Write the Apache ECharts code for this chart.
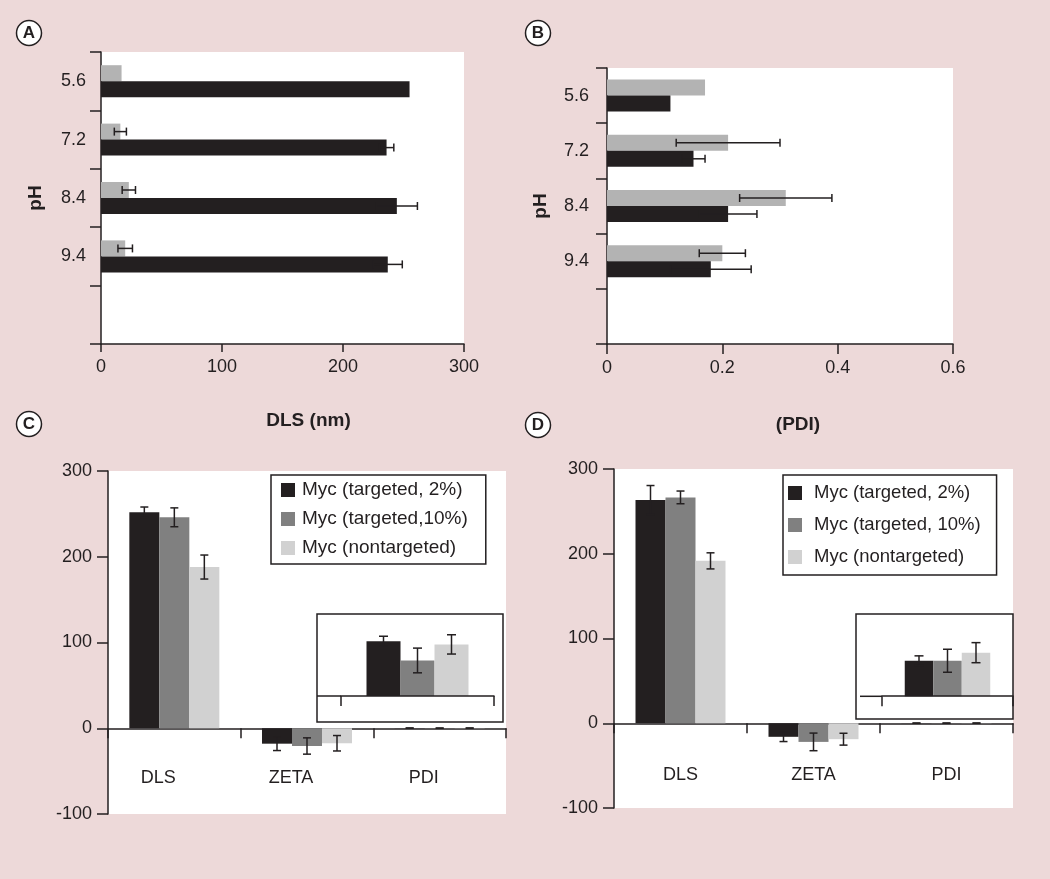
<!DOCTYPE html>
<html>
<head>
<meta charset="utf-8">
<script src="https://cdn.jsdelivr.net/npm/echarts@6/dist/echarts.min.js"></script>
<style>
html,body{margin:0;padding:0;background:#EDD9D9;}
#chart{width:1050px;height:879px;}
</style>
</head>
<body>
<div id="chart"></div>
<script>
// ---------- data ----------
const phLabels = ['5.6', '7.2', '8.4', '9.4', ''];
const dlsGray = [17, 16, 23, 20];
const dlsGrayErr = [0, 5, 5.5, 6];
const dlsBlack = [255, 236, 244.5, 237];
const dlsBlackErr = [0, 6, 17, 12];
const pdiGray = [0.17, 0.21, 0.31, 0.20];
const pdiGrayErr = [0, 0.09, 0.08, 0.04];
const pdiBlack = [0.11, 0.15, 0.21, 0.18];
const pdiBlackErr = [0, 0.02, 0.05, 0.07];

const measures = ['DLS', 'ZETA', 'PDI'];
const cT2 = [252, -18, 0.222];
const cT2Err = [6, 8, 0.02];
const cT10 = [246, -20.7, 0.144];
const cT10Err = [11, 9.5, 0.05];
const cNT = [188, -17.5, 0.209];
const cNTErr = [14, 9, 0.039];
const dT2 = [263.5, -16, 0.145];
const dT2Err = [17, 5.6, 0.02];
const dT10 = [266.5, -22, 0.145];
const dT10Err = [7.5, 10.4, 0.047];
const dNT = [191.6, -18.8, 0.178];
const dNTErr = [9.5, 7, 0.041];

const xTicksA = [0, 100, 200, 300];
const xTicksB = [0, 0.2, 0.4, 0.6];
const yTicksCD = [-100, 0, 100, 200, 300];

const namesC = ['Myc (targeted, 2%)', 'Myc (targeted,10%)', 'Myc (nontargeted)'];
const namesD = ['Myc (targeted, 2%)', 'Myc (targeted, 10%)', 'Myc (nontargeted)'];

// ---------- style ----------
const INK = '#231F20';
const GRAY = '#B3B3B3';
const MID = '#808080';
const LIGHT = '#D1D1D1';
const FONT = '"Liberation Sans", Arial, Helvetica, sans-serif';

const chart = echarts.init(document.getElementById('chart'), null, {renderer: 'canvas'});

function errLines(a, b, horizontal, cap) {
  const st = {stroke: INK, lineWidth: 1.5};
  if (horizontal) {
    return [
      {type: 'line', shape: {x1: a[0], y1: a[1], x2: b[0], y2: b[1]}, style: st},
      {type: 'line', shape: {x1: a[0], y1: a[1] - cap, x2: a[0], y2: a[1] + cap}, style: st},
      {type: 'line', shape: {x1: b[0], y1: b[1] - cap, x2: b[0], y2: b[1] + cap}, style: st}
    ];
  }
  return [
    {type: 'line', shape: {x1: a[0], y1: a[1], x2: b[0], y2: b[1]}, style: st},
    {type: 'line', shape: {x1: a[0] - cap, y1: a[1], x2: a[0] + cap, y2: a[1]}, style: st},
    {type: 'line', shape: {x1: b[0] - cap, y1: b[1], x2: b[0] + cap, y2: b[1]}, style: st}
  ];
}
function hErr(offset) {
  return function (params, api) {
    const v = api.value(0), cat = api.value(1), e = api.value(2);
    if (!e) return null;
    const p1 = api.coord([v - e, cat]), p2 = api.coord([v + e, cat]);
    return {type: 'group', children: errLines([p1[0], p1[1] + offset], [p2[0], p2[1] + offset], true, 4)};
  };
}
function vErr(offset, cap) {
  return function (params, api) {
    const cat = api.value(0), v = api.value(1), e = api.value(2);
    const p1 = api.coord([cat, v - e]), p2 = api.coord([cat, v + e]);
    return {type: 'group', children: errLines([p1[0] + offset, p1[1]], [p2[0] + offset, p2[1]], false, cap)};
  };
}

const axisLineS = {show: true, lineStyle: {color: INK, width: 1.5}};
const tickS = (len) => ({show: true, length: len, lineStyle: {color: INK, width: 1.5}});
const labelS = (margin, extra) => Object.assign({color: INK, fontSize: 18, fontFamily: FONT, margin: margin}, extra || {});
const nameS = (pad) => ({color: INK, fontSize: 19, fontWeight: 'bold', fontFamily: FONT, padding: pad || 0});

const hData = (vals, errs) => vals.map((v, i) => [v, i, errs[i]]);
const vData = (vals, errs) => vals.map((v, i) => [i, v, errs[i]]);

const gridBase = {show: true, backgroundColor: '#fff', borderWidth: 0, containLabel: false};

const option = {
  backgroundColor: '#EDD9D9',
  animation: false,
  textStyle: {fontFamily: FONT},
  grid: [
    Object.assign({left: 101, top: 52, width: 363, height: 292}, gridBase),
    Object.assign({left: 607, top: 68, width: 346, height: 276}, gridBase),
    Object.assign({left: 108, top: 471, width: 398, height: 343}, gridBase),
    Object.assign({left: 614, top: 469, width: 399, height: 339}, gridBase),
    {left: 341, top: 614, width: 153, height: 108, show: false},
    {left: 882, top: 614, width: 131, height: 105, show: false}
  ],
  xAxis: [
    {gridIndex: 0, type: 'value', min: xTicksA[0], max: xTicksA[xTicksA.length - 1], interval: 100,
      splitLine: {show: false}, axisLine: axisLineS, axisTick: tickS(8), axisLabel: labelS(14),
      name: 'DLS (nm)', nameLocation: 'middle', nameGap: 67, nameTextStyle: nameS([0, 0, 0, 52])},
    {gridIndex: 1, type: 'value', min: xTicksB[0], max: xTicksB[xTicksB.length - 1], interval: 0.2,
      splitLine: {show: false}, axisLine: axisLineS, axisTick: tickS(10), axisLabel: labelS(15),
      name: '(PDI)', nameLocation: 'middle', nameGap: 71, nameTextStyle: nameS([0, 0, 0, 36])},
    {gridIndex: 2, type: 'category', data: measures, axisLine: Object.assign({onZero: true}, axisLineS),
      axisTick: tickS(10), axisLabel: labelS(-45, {padding: [0, 32, 0, 0]})},
    {gridIndex: 3, type: 'category', data: measures, axisLine: Object.assign({onZero: true}, axisLineS),
      axisTick: tickS(10), axisLabel: labelS(-42)},
    {gridIndex: 4, type: 'category', data: measures.slice(2), z: 5, axisLine: Object.assign({onZero: true}, axisLineS),
      axisTick: tickS(10), axisLabel: {show: false}},
    {gridIndex: 5, type: 'category', data: measures.slice(2), z: 5, axisLine: Object.assign({onZero: true}, axisLineS),
      axisTick: tickS(10), axisLabel: {show: false}}
  ],
  yAxis: [
    {gridIndex: 0, type: 'category', data: phLabels, inverse: true, axisLine: axisLineS,
      axisTick: tickS(11), axisLabel: labelS(15),
      name: 'pH', nameLocation: 'middle', nameGap: 56, nameTextStyle: nameS()},
    {gridIndex: 1, type: 'category', data: phLabels, inverse: true, axisLine: axisLineS,
      axisTick: tickS(11), axisLabel: labelS(18),
      name: 'pH', nameLocation: 'middle', nameGap: 57, nameTextStyle: nameS()},
    {gridIndex: 2, type: 'value', min: yTicksCD[0], max: yTicksCD[yTicksCD.length - 1], interval: 100,
      splitLine: {show: false}, axisLine: axisLineS, axisTick: tickS(11), axisLabel: labelS(16)},
    {gridIndex: 3, type: 'value', min: yTicksCD[0], max: yTicksCD[yTicksCD.length - 1], interval: 100,
      splitLine: {show: false}, axisLine: axisLineS, axisTick: tickS(11), axisLabel: labelS(16)},
    {gridIndex: 4, type: 'value', min: -0.105, max: 0.332, show: false},
    {gridIndex: 5, type: 'value', min: -0.093, max: 0.336, show: false}
  ],
  legend: [
    {data: namesC, orient: 'vertical', left: 271, top: 475, icon: 'rect', itemWidth: 14, itemHeight: 14,
      itemGap: 9, padding: [5, 18, 6, 10], backgroundColor: '#fff', borderColor: INK, borderWidth: 1.5,
      selectedMode: false, textStyle: {color: INK, fontSize: 19, lineHeight: 20, fontFamily: FONT, padding: [0, 0, 0, 2]}},
    {data: namesD, orient: 'vertical', left: 783, top: 475, icon: 'rect', itemWidth: 14, itemHeight: 14,
      itemGap: 12, padding: [8, 16, 8, 5], backgroundColor: '#fff', borderColor: INK, borderWidth: 1.5,
      selectedMode: false, textStyle: {color: INK, fontSize: 18.5, lineHeight: 20, fontFamily: FONT, padding: [0, 0, 0, 7]}}
  ],
  graphic: [
    {type: 'circle', shape: {cx: 29, cy: 33, r: 12.5}, style: {fill: '#fff', stroke: INK, lineWidth: 1.5}},
    {type: 'text', x: 29, y: 33, style: {text: 'A', fill: INK, font: 'bold 17px ' + FONT, align: 'center', verticalAlign: 'middle'}},
    {type: 'circle', shape: {cx: 538, cy: 33, r: 12.5}, style: {fill: '#fff', stroke: INK, lineWidth: 1.5}},
    {type: 'text', x: 538, y: 33, style: {text: 'B', fill: INK, font: 'bold 17px ' + FONT, align: 'center', verticalAlign: 'middle'}},
    {type: 'circle', shape: {cx: 29, cy: 424, r: 12.5}, style: {fill: '#fff', stroke: INK, lineWidth: 1.5}},
    {type: 'text', x: 29, y: 424, style: {text: 'C', fill: INK, font: 'bold 17px ' + FONT, align: 'center', verticalAlign: 'middle'}},
    {type: 'circle', shape: {cx: 538, cy: 425, r: 12.5}, style: {fill: '#fff', stroke: INK, lineWidth: 1.5}},
    {type: 'text', x: 538, y: 425, style: {text: 'D', fill: INK, font: 'bold 17px ' + FONT, align: 'center', verticalAlign: 'middle'}},
    // inset frames
    {type: 'rect', z: 1, shape: {x: 317, y: 614, width: 186, height: 108}, style: {fill: 'none', stroke: INK, lineWidth: 1.5}},
    {type: 'line', z: 1, shape: {x1: 317, y1: 696, x2: 341, y2: 696}, style: {stroke: INK, lineWidth: 1.5}},
    {type: 'rect', z: 1, shape: {x: 856, y: 614, width: 157, height: 105}, style: {fill: 'none', stroke: INK, lineWidth: 1.5}},
    {type: 'line', z: 1, shape: {x1: 860, y1: 696.3, x2: 882, y2: 696.3}, style: {stroke: INK, lineWidth: 1.5}}
  ],
  series: [
    // Panel A
    {name: 'A nontargeted', type: 'bar', xAxisIndex: 0, yAxisIndex: 0, data: dlsGray, barWidth: 16, barGap: '0%', itemStyle: {color: GRAY}},
    {name: 'A targeted', type: 'bar', xAxisIndex: 0, yAxisIndex: 0, data: dlsBlack, barWidth: 16, barGap: '0%', itemStyle: {color: INK}},
    {name: 'A err1', type: 'custom', xAxisIndex: 0, yAxisIndex: 0, z: 5, renderItem: hErr(-8), data: hData(dlsGray, dlsGrayErr)},
    {name: 'A err2', type: 'custom', xAxisIndex: 0, yAxisIndex: 0, z: 5, renderItem: hErr(8), data: hData(dlsBlack, dlsBlackErr)},
    // Panel B
    {name: 'B nontargeted', type: 'bar', xAxisIndex: 1, yAxisIndex: 1, data: pdiGray, barWidth: 16, barGap: '0%', itemStyle: {color: GRAY}},
    {name: 'B targeted', type: 'bar', xAxisIndex: 1, yAxisIndex: 1, data: pdiBlack, barWidth: 16, barGap: '0%', itemStyle: {color: INK}},
    {name: 'B err1', type: 'custom', xAxisIndex: 1, yAxisIndex: 1, z: 5, renderItem: hErr(-8), data: hData(pdiGray, pdiGrayErr)},
    {name: 'B err2', type: 'custom', xAxisIndex: 1, yAxisIndex: 1, z: 5, renderItem: hErr(8), data: hData(pdiBlack, pdiBlackErr)},
    // Panel C
    {name: namesC[0], type: 'bar', xAxisIndex: 2, yAxisIndex: 2, data: cT2, barWidth: 30, barGap: '0%', itemStyle: {color: INK}},
    {name: namesC[1], type: 'bar', xAxisIndex: 2, yAxisIndex: 2, data: cT10, barWidth: 30, barGap: '0%', itemStyle: {color: MID}},
    {name: namesC[2], type: 'bar', xAxisIndex: 2, yAxisIndex: 2, data: cNT, barWidth: 30, barGap: '0%', itemStyle: {color: LIGHT}},
    {name: 'C err1', type: 'custom', xAxisIndex: 2, yAxisIndex: 2, z: 5, renderItem: vErr(-30, 4), data: vData(cT2, cT2Err)},
    {name: 'C err2', type: 'custom', xAxisIndex: 2, yAxisIndex: 2, z: 5, renderItem: vErr(0, 4), data: vData(cT10, cT10Err)},
    {name: 'C err3', type: 'custom', xAxisIndex: 2, yAxisIndex: 2, z: 5, renderItem: vErr(30, 4), data: vData(cNT, cNTErr)},
    // Panel D
    {name: namesD[0], type: 'bar', xAxisIndex: 3, yAxisIndex: 3, data: dT2, barWidth: 30, barGap: '0%', itemStyle: {color: INK}},
    {name: namesD[1], type: 'bar', xAxisIndex: 3, yAxisIndex: 3, data: dT10, barWidth: 30, barGap: '0%', itemStyle: {color: MID}},
    {name: namesD[2], type: 'bar', xAxisIndex: 3, yAxisIndex: 3, data: dNT, barWidth: 30, barGap: '0%', itemStyle: {color: LIGHT}},
    {name: 'D err1', type: 'custom', xAxisIndex: 3, yAxisIndex: 3, z: 5, renderItem: vErr(-30, 4), data: vData(dT2, dT2Err)},
    {name: 'D err2', type: 'custom', xAxisIndex: 3, yAxisIndex: 3, z: 5, renderItem: vErr(0, 4), data: vData(dT10, dT10Err)},
    {name: 'D err3', type: 'custom', xAxisIndex: 3, yAxisIndex: 3, z: 5, renderItem: vErr(30, 4), data: vData(dNT, dNTErr)},
    // Inset C (PDI zoom)
    {name: 'Ci1', type: 'bar', xAxisIndex: 4, yAxisIndex: 4, data: cT2.slice(2), barWidth: 34, barGap: '0%', itemStyle: {color: INK}},
    {name: 'Ci2', type: 'bar', xAxisIndex: 4, yAxisIndex: 4, data: cT10.slice(2), barWidth: 34, barGap: '0%', itemStyle: {color: MID}},
    {name: 'Ci3', type: 'bar', xAxisIndex: 4, yAxisIndex: 4, data: cNT.slice(2), barWidth: 34, barGap: '0%', itemStyle: {color: LIGHT}},
    {name: 'Ci err1', type: 'custom', xAxisIndex: 4, yAxisIndex: 4, z: 5, renderItem: vErr(-34, 4.5), data: vData(cT2.slice(2), cT2Err.slice(2))},
    {name: 'Ci err2', type: 'custom', xAxisIndex: 4, yAxisIndex: 4, z: 5, renderItem: vErr(0, 4.5), data: vData(cT10.slice(2), cT10Err.slice(2))},
    {name: 'Ci err3', type: 'custom', xAxisIndex: 4, yAxisIndex: 4, z: 5, renderItem: vErr(34, 4.5), data: vData(cNT.slice(2), cNTErr.slice(2))},
    // Inset D (PDI zoom)
    {name: 'Di1', type: 'bar', xAxisIndex: 5, yAxisIndex: 5, data: dT2.slice(2), barWidth: 28.5, barGap: '0%', itemStyle: {color: INK}},
    {name: 'Di2', type: 'bar', xAxisIndex: 5, yAxisIndex: 5, data: dT10.slice(2), barWidth: 28.5, barGap: '0%', itemStyle: {color: MID}},
    {name: 'Di3', type: 'bar', xAxisIndex: 5, yAxisIndex: 5, data: dNT.slice(2), barWidth: 28.5, barGap: '0%', itemStyle: {color: LIGHT}},
    {name: 'Di err1', type: 'custom', xAxisIndex: 5, yAxisIndex: 5, z: 5, renderItem: vErr(-28.5, 4.5), data: vData(dT2.slice(2), dT2Err.slice(2))},
    {name: 'Di err2', type: 'custom', xAxisIndex: 5, yAxisIndex: 5, z: 5, renderItem: vErr(0, 4.5), data: vData(dT10.slice(2), dT10Err.slice(2))},
    {name: 'Di err3', type: 'custom', xAxisIndex: 5, yAxisIndex: 5, z: 5, renderItem: vErr(28.5, 4.5), data: vData(dNT.slice(2), dNTErr.slice(2))}
  ]
};
chart.setOption(option);
</script>
</body>
</html>
